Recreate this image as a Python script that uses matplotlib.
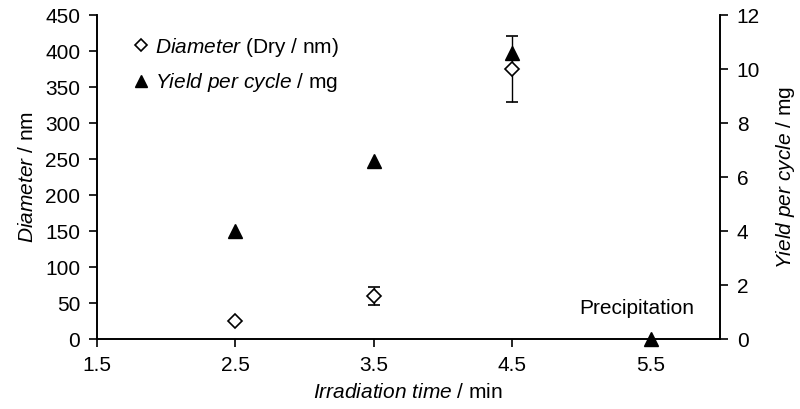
import matplotlib
matplotlib.use("Agg")
import matplotlib.pyplot as plt
from matplotlib.lines import Line2D

plt.rcParams['font.family'] = ['Liberation Sans', 'DejaVu Sans']
plt.rcParams['mathtext.fontset'] = 'custom'
plt.rcParams['mathtext.it'] = 'Liberation Sans:italic'
plt.rcParams['mathtext.rm'] = 'Liberation Sans'

# Data
time_d = [2.5, 3.5, 4.5]
diameter = [25, 60, 375]
diameter_err = [0, 13, 46]
time_y = [2.5, 3.5, 4.5, 5.5]
yield_mg = [4.0, 6.6, 10.6, 0.0]
xticks = [1.5, 2.5, 3.5, 4.5, 5.5]

FS = 15

fig = plt.figure(figsize=(8, 4.09), dpi=100)
ax = fig.add_axes([0.121, 0.171, 0.779, 0.792])
ax2 = ax.twinx()

ax.errorbar(time_d, diameter, yerr=diameter_err, fmt='D', mfc='white', mec='black',
            mew=1.2, ms=7, ecolor='black', elinewidth=1, capsize=4, capthick=1, zorder=3)
ax2.plot(time_y, yield_mg, '^', color='black', ms=10.5, zorder=4, clip_on=False)

ax.set_xlim(1.5, 6.0)
ax.set_ylim(0, 450)
ax2.set_ylim(0, 12)
ax.set_xticks(xticks)
ax.set_xticklabels([f"{v:.1f}" for v in xticks])
ax.set_yticks(range(0, 451, 50))
ax2.set_yticks(range(0, 13, 2))

for a in (ax, ax2):
    a.spines['top'].set_visible(False)
    for s in a.spines.values():
        s.set_linewidth(1.2)
    a.tick_params(direction='out', length=6, width=1.2, labelsize=FS)
ax.tick_params(axis='x', pad=6)
ax.tick_params(axis='y', pad=6)
ax2.tick_params(axis='y', pad=6)

ax.set_xlabel(r'$\mathit{Irradiation\ time}$ / min', fontsize=FS, labelpad=6)
ax.set_ylabel(r'$\mathit{Diameter}$ / nm', fontsize=FS, labelpad=6)
ax2.set_ylabel(r'$\mathit{Yield\ per\ cycle}$ / mg', fontsize=FS, labelpad=10)

ax.text(5.4, 43, 'Precipitation', fontsize=FS, ha='center', va='center')

handles = [
    Line2D([], [], marker='D', ls='none', mfc='white', mec='black', mew=1.2, ms=6),
    Line2D([], [], marker='^', ls='none', color='black', ms=9),
]
labels = [r'$\mathit{Diameter}$ (Dry / nm)', r'$\mathit{Yield\ per\ cycle}$ / mg']
ax.legend(handles, labels, loc='upper left', bbox_to_anchor=(0.02, 0.995), frameon=False,
          fontsize=FS, handletextpad=0.1, handlelength=1.2, labelspacing=0.6)

fig.savefig('out.png', dpi=100)
